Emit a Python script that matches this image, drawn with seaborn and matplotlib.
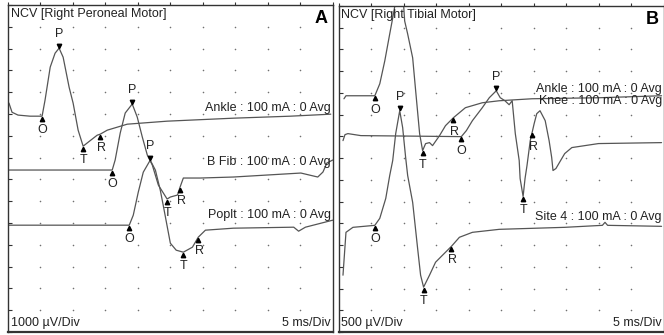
import numpy as np
import pandas as pd
import seaborn as sns
import matplotlib.pyplot as plt
import matplotlib.transforms as mtransforms

# Panel A - right peroneal motor, 1000 uV/div, 5 ms/div
# time in ms, amplitude in uV relative to each trace's own baseline
ankle_a_ms = [0.15, 0.62, 1.54, 3.4, 5.25, 5.7, 6.5, 7.25, 7.87, 8.49, 9.41, 10.03, 10.8, 11.57,
              12.35, 13.73, 14.2, 15.28, 18.36, 24.5, 34.7, 43.5, 49.7]
ankle_a_uv = [600, 180, 50, 0, 0, 730, 2250, 2890, 3120, 2706, 1330, 596, -642, -1376,
              -1193, -872, -826, -642, -367, -229, -92, 0, 92]

bfib_ms = [0, 16.05, 16.5, 17.28, 18.05, 19.13, 19.9, 20.68, 21.45, 22.22, 23.15, 24.5, 25.0,
           26.1, 26.5, 27.0, 29.6, 34.7, 45.1, 47.7, 48.5, 49.1, 50]
bfib_uv = [0, 0, 459, 1697, 2615, 3027, 2431, 1514, 688, 229, -688, -1330, -1239,
           -1147, -780, -367, -367, -321, -138, -321, -92, 321, 459]

poplt_ms = [0, 18.67, 19.29, 20.06, 20.83, 21.9, 22.7, 23.45, 23.9, 25.0, 25.9, 27.0, 28.4,
            29.3, 30.4, 34.7, 44.0, 44.75, 45.8, 50]
poplt_uv = [0, 0, 459, 1514, 2431, 2982, 2523, 1606, 917, -826, -1147, -1239, -1009,
            -550, -229, -138, -92, -275, -92, 229]

# Panel B - right tibial motor, 500 uV/div, 5 ms/div
ankle_b_ms = [0.84, 1.15, 5.59, 6.35, 7.12, 7.88, 8.34, 8.8, 9.42, 9.87, 10.18, 10.64, 11.41,
              11.87, 12.48, 12.94, 13.4, 14.0, 14.47, 15.54, 16.46, 17.68, 19.52, 22.12,
              24.73, 29.78, 40.0, 49.7]
ankle_b_uv = [-69, 0, 0, 275, 803, 1422, 1789, 2179, 2592, 2409, 1720, 1422, 872,
              115, -872, -1262, -1101, -1078, -1147, -918, -688, -505, -275, -161,
              -115, -69, -46, 0]

knee_ms = [0.69, 1.0, 1.45, 3.44, 18.9, 19.67, 20.6, 22.12, 23.2, 24.27, 24.88, 25.6, 26.25,
           26.72, 27.2, 27.8, 27.94, 28.4, 28.7, 29.0, 29.5, 30.1, 30.5, 31.0, 31.8, 32.4,
           32.8, 33.0, 33.45, 33.9, 34.8, 35.9, 40.0, 49.7]
knee_uv = [-115, 23, 46, 0, -23, 115, 344, 642, 872, 1032, 872, 803, 711,
           803, 46, -573, -986, -1400, -986, -688, -115, 275, 505, 573, 344, -115,
           -505, -803, -757, -642, -413, -275, -183, -161]

site4_ms = [0.69, 1.15, 2.22, 5.59, 6.35, 7.27, 7.88, 8.34, 8.8, 9.42, 9.87, 10.33, 10.64,
            11.41, 12.17, 12.63, 13.09, 14.0, 14.93, 16.0, 17.38, 18.6, 20.6, 24.73, 34.8,
            40.6, 41.0, 41.4, 49.7]
site4_uv = [-1147, -161, -46, 0, 161, 619, 1147, 1491, 2111, 2638, 2248, 1560, 1147,
            528, -528, -1147, -1422, -1147, -849, -688, -482, -275, -161, -92, -46,
            0, 69, 0, -23]

# baseline of each trace on the screen (uV from the bottom of the panel)
offsets_a = [9900, 7430, 4900]
offsets_b = [5435, 4518, 2454]

# label heights (uV from bottom of panel)
label_y_a = [10275, 7798, 5367]
label_y_b = [5597, 5322, 2638]

names_a = ["Ankle", "B Fib", "Poplt"]
names_b = ["Ankle", "Knee", "Site 4"]

# cursor times (ms) for onset / peak / trough / return
cursors_a = [{"O": 5.25, "P": 7.87, "T": 11.57, "R": 14.2},
             {"O": 16.05, "P": 19.13, "T": 24.5, "R": 26.5},
             {"O": 18.67, "P": 21.9, "T": 27.0, "R": 29.3}]
cursors_b = [{"O": 5.59, "T": 12.94, "R": 17.68},
             {"O": 18.9, "P": 24.27, "T": 28.4, "R": 29.78},
             {"O": 5.59, "P": 9.42, "T": 13.09, "R": 17.38}]

sns.set_style("white")
plt.rcParams['font.family'] = ['Liberation Sans', 'DejaVu Sans']

fig = plt.figure(figsize=(6.64, 3.35), dpi=100)
ax_a = fig.add_axes([8 / 664, 3 / 335, 324.7 / 664, 327 / 335])
ax_b = fig.add_axes([338.5 / 664, 3 / 335, 325 / 664, 326 / 335])

trace_col = "#555555"


def draw_panel(ax, traces, names, offsets, label_ys, cursors, uv_div, title, letter, scale_txt):
    frames = []
    for name, (t, a), off in zip(names, traces, offsets):
        frames.append(pd.DataFrame({"ms": t, "uV": np.array(a) + off, "site": name}))
    df = pd.concat(frames, ignore_index=True)
    sns.lineplot(data=df, x="ms", y="uV", units="site", estimator=None, sort=False,
                 color=trace_col, lw=0.9, ax=ax, legend=False)

    ax.set_xlim(0, 50)
    ax.set_ylim(0, 15 * uv_div)
    xt = np.arange(0, 51, 5)
    yt = np.arange(0, 15 * uv_div + 1, uv_div)
    ax.set_xticks(xt)
    ax.set_yticks(yt)
    ax.tick_params(axis="x", direction="out", length=2, width=0.8, color="#333333",
                   labelbottom=False, labeltop=False, top=True, bottom=False)
    ax.tick_params(axis="y", direction="in", length=3, width=0.8, color="#333333",
                   labelleft=False, left=True, right=False)
    ax.set_xlabel("")
    ax.set_ylabel("")
    for s in ax.spines.values():
        s.set_color("#333333")
        s.set_linewidth(1.0)
    ax.spines["bottom"].set_linewidth(1.6)

    # grid dots
    gx, gy = np.meshgrid(xt[1:-1], yt[1:-1])
    ax.scatter(gx.ravel(), gy.ravel(), s=1.3, color="#707070", linewidths=0, zorder=1)

    up = mtransforms.offset_copy(ax.transData, fig=fig, y=2.5, units="dots")
    down = mtransforms.offset_copy(ax.transData, fig=fig, y=-2.5, units="dots")
    for (t, a), off, cur in zip(traces, offsets, cursors):
        for key, tm in cur.items():
            yv = np.interp(tm, t, a) + off
            if key == "P":
                ax.plot(tm, yv, marker="v", ms=3.2, color="black", transform=up,
                        clip_on=False, zorder=4)
                ax.annotate(key, (tm, yv), xytext=(0, 10), textcoords="offset points",
                            ha="center", va="center", fontsize=9, color="#222222")
            else:
                ax.plot(tm, yv, marker="^", ms=3.2, color="black", transform=down,
                        zorder=4)
                ax.annotate(key, (tm, yv), xytext=(1 if key == "R" else 0, -10),
                            textcoords="offset points", ha="center", va="center",
                            fontsize=9, color="#222222")

    for name, ly in zip(names, label_ys):
        ax.text(0.995, ly, f"{name} : 100 mA : 0 Avg", transform=ax.get_yaxis_transform(),
                ha="right", va="center", fontsize=9, color="#222222")

    ax.text(0.008, 0.992, title, transform=ax.transAxes, ha="left", va="top",
            fontsize=9, color="#222222")
    ax.text(0.985, 0.985, letter, transform=ax.transAxes, ha="right", va="top",
            fontsize=13, fontweight="bold", color="black")
    ax.text(0.008, 0.01, scale_txt, transform=ax.transAxes, ha="left", va="bottom",
            fontsize=9, color="#222222")
    ax.text(0.995, 0.01, "5 ms/Div", transform=ax.transAxes, ha="right", va="bottom",
            fontsize=9, color="#222222")


draw_panel(ax_a, [(ankle_a_ms, ankle_a_uv), (bfib_ms, bfib_uv), (poplt_ms, poplt_uv)],
           names_a, offsets_a, label_y_a, cursors_a, 1000,
           "NCV [Right Peroneal Motor]", "A", "1000 \u00b5V/Div")
draw_panel(ax_b, [(ankle_b_ms, ankle_b_uv), (knee_ms, knee_uv), (site4_ms, site4_uv)],
           names_b, offsets_b, label_y_b, cursors_b, 500,
           "NCV [Right Tibial Motor]", "B", "500 \u00b5V/Div")

fig.savefig("out.png", dpi=100)
